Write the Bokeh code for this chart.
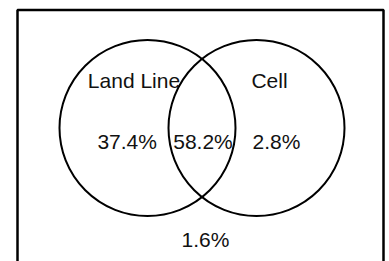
from bokeh.plotting import figure
from bokeh.models import Range1d
from bokeh.core.properties import value
from bokeh.embed import file_html
from bokeh.resources import INLINE

# Data
set_names = ["Land Line", "Cell"]
region_labels = ["37.4%", "58.2%", "2.8%", "1.6%"]  # land only, both, cell only, neither

# Layout (pixel-like coordinates)
circle_x = [147, 256]
circle_y = [127.5, 127.5]
circle_r = [88, 88]
name_x = [133.5, 269]
name_y = [80, 80]
region_x = [126.7, 202.5, 276, 205]
region_y = [141, 141, 141, 238.5]

W, H = 389, 261
p = figure(width=W, height=H, output_backend="svg", toolbar_location=None,
           x_range=Range1d(0, W), y_range=Range1d(H, 0),
           min_border=0, outline_line_color=None, background_fill_color="white",
           border_fill_color="white")
p.axis.visible = False
p.grid.visible = False

# frame
p.quad(left=[17], right=[383], top=[9.5], bottom=[290], fill_color=None,
       line_color="black", line_width=2.5)

p.circle(x=circle_x, y=circle_y, radius=circle_r, fill_color=None,
         line_color="black", line_width=2)

p.text(x=name_x, y=name_y, text=set_names, text_align="center",
       text_baseline="alphabetic", text_font=value("Liberation Sans"),
       text_font_size="21px", text_color="#111111")
p.text(x=region_x, y=region_y, text=region_labels, text_align="center",
       text_baseline="alphabetic", text_font=value("Liberation Sans"),
       text_font_size="21px", text_color="#111111")

open("out.html", "w").write(file_html(p, INLINE))
